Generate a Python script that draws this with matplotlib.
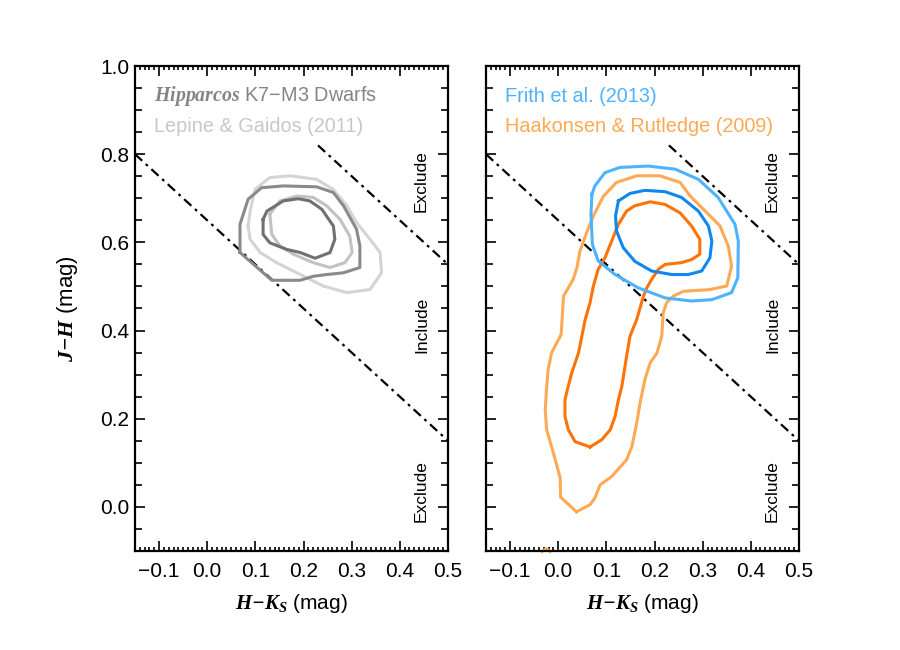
import matplotlib
matplotlib.use("Agg")
import matplotlib.pyplot as plt
from matplotlib.ticker import MultipleLocator

plt.rcParams['font.family'] = ['Liberation Sans', 'DejaVu Sans']
plt.rcParams['mathtext.fontset'] = 'custom'
plt.rcParams['mathtext.rm'] = 'Liberation Sans'
plt.rcParams['mathtext.it'] = 'Liberation Serif:italic'
plt.rcParams['mathtext.bf'] = 'Liberation Serif:bold'
plt.rcParams['mathtext.bfit'] = 'Liberation Serif:italic:bold'
plt.rcParams['lines.scale_dashes'] = False

# ---------------- data ----------------
# Hipparcos K7-M3 dwarfs contours (H-Ks, J-H)
hip_outer_x = [0.068, 0.068, 0.085, 0.113, 0.158, 0.227, 0.262, 0.283, 0.310, 0.317, 0.317,
               0.283, 0.248, 0.220, 0.193, 0.134, 0.068]
hip_outer_y = [0.577, 0.641, 0.698, 0.724, 0.728, 0.726, 0.713, 0.683, 0.630, 0.592, 0.543,
               0.531, 0.527, 0.523, 0.514, 0.514, 0.577]
hip_inner_x = [0.116, 0.124, 0.158, 0.189, 0.213, 0.238, 0.262, 0.265, 0.255, 0.224, 0.193,
               0.165, 0.130, 0.116, 0.116]
hip_inner_y = [0.652, 0.671, 0.694, 0.699, 0.694, 0.675, 0.637, 0.607, 0.577, 0.564, 0.577,
               0.584, 0.599, 0.618, 0.652]
# Lepine & Gaidos (2011)
lep_outer_x = [0.085, 0.089, 0.099, 0.130, 0.172, 0.227, 0.262, 0.290, 0.310, 0.338, 0.359,
               0.362, 0.338, 0.290, 0.241, 0.186, 0.144, 0.110, 0.089, 0.085]
lep_outer_y = [0.637, 0.670, 0.720, 0.747, 0.751, 0.743, 0.720, 0.683, 0.645, 0.607, 0.577,
               0.531, 0.493, 0.486, 0.501, 0.531, 0.554, 0.577, 0.607, 0.637]
lep_inner_x = [0.130, 0.151, 0.186, 0.220, 0.248, 0.276, 0.296, 0.301, 0.286, 0.255, 0.220,
               0.179, 0.151, 0.134, 0.130]
lep_inner_y = [0.664, 0.694, 0.705, 0.702, 0.683, 0.652, 0.614, 0.577, 0.554, 0.543, 0.554,
               0.573, 0.592, 0.618, 0.664]
# Frith et al. (2013)
fri_outer_x = [0.070, 0.076, 0.097, 0.128, 0.187, 0.243, 0.291, 0.332, 0.367, 0.374, 0.373,
               0.360, 0.319, 0.277, 0.222, 0.166, 0.118, 0.083, 0.071, 0.068, 0.070]
fri_outer_y = [0.709, 0.728, 0.758, 0.770, 0.773, 0.766, 0.743, 0.702, 0.641, 0.603, 0.520,
               0.486, 0.470, 0.467, 0.474, 0.497, 0.527, 0.558, 0.595, 0.664, 0.709]
fri_inner_x = [0.125, 0.149, 0.180, 0.222, 0.256, 0.291, 0.312, 0.319, 0.315, 0.298, 0.270,
               0.236, 0.194, 0.159, 0.135, 0.121, 0.119, 0.125]
fri_inner_y = [0.694, 0.711, 0.718, 0.715, 0.702, 0.671, 0.637, 0.603, 0.565, 0.535, 0.527,
               0.527, 0.535, 0.557, 0.588, 0.626, 0.660, 0.694]
# Haakonsen & Rutledge (2009)
haa_outer_x = [0.038, 0.005, 0.004, -0.010, -0.024, -0.027, -0.024, -0.021, -0.014, -0.005,
               0.006, 0.008, 0.011, 0.031, 0.039, 0.045, 0.059, 0.073, 0.094, 0.121, 0.163,
               0.211, 0.253, 0.274, 0.308, 0.336, 0.353, 0.360, 0.350, 0.315, 0.260, 0.239,
               0.225, 0.218, 0.215, 0.205, 0.191, 0.180, 0.170, 0.163, 0.153, 0.142, 0.111,
               0.087, 0.076, 0.066, 0.038]
haa_outer_y = [-0.011, 0.022, 0.066, 0.122, 0.175, 0.220, 0.273, 0.311, 0.349, 0.368,
               0.391, 0.425, 0.478, 0.516, 0.543, 0.580, 0.622, 0.660, 0.705, 0.736, 0.751,
               0.751, 0.736, 0.705, 0.668, 0.637, 0.592, 0.546, 0.501, 0.493, 0.489, 0.478,
               0.463, 0.440, 0.387, 0.349, 0.327, 0.289, 0.236, 0.190, 0.137, 0.107, 0.069,
               0.050, 0.020, 0.005, -0.011]
haa_inner_x = [0.066, 0.035, 0.021, 0.014, 0.014, 0.019, 0.028, 0.042, 0.049, 0.056, 0.066,
               0.073, 0.083, 0.097, 0.111, 0.125, 0.142, 0.159, 0.191, 0.222, 0.253, 0.277,
               0.294, 0.294, 0.277, 0.256, 0.222, 0.208, 0.194, 0.184, 0.177, 0.163, 0.149,
               0.142, 0.132, 0.125, 0.118, 0.108, 0.090, 0.066]
haa_inner_y = [0.136, 0.148, 0.175, 0.205, 0.243, 0.266, 0.304, 0.349, 0.387, 0.425, 0.463,
               0.501, 0.539, 0.565, 0.603, 0.641, 0.671, 0.683, 0.692, 0.686, 0.667, 0.637,
               0.607, 0.573, 0.561, 0.554, 0.550, 0.539, 0.516, 0.497, 0.478, 0.425, 0.387,
               0.342, 0.273, 0.243, 0.205, 0.175, 0.152, 0.136]
haa_stub_x = [-0.034, -0.025, -0.017]
haa_stub_y = [-0.101, -0.095, -0.101]

# selection cuts
cut_low_x = [-0.15, 0.50]
cut_low_y = [0.80, 0.15]
cut_high_x = [0.23, 0.50]
cut_high_y = [0.82, 0.55]

region_labels = ['Exclude', 'Include', 'Exclude']
region_ypos = [0.763, 0.466, 0.124]

xticks = [-0.1, 0.0, 0.1, 0.2, 0.3, 0.4, 0.5]
yticks = [0.0, 0.2, 0.4, 0.6, 0.8, 1.0]

# colours
c_hip_out, c_hip_in = '#8a8a8a', '#707070'
c_lep_out, c_lep_in = '#d4d4d4', '#c2c2c2'
c_hip_txt, c_lep_txt = '#858585', '#c8c8c8'
c_fri_out, c_fri_in = '#4db3ff', '#0f87ee'
c_haa_out, c_haa_in = '#ffa955', '#ff7308'

fig = plt.figure(figsize=(9, 6.5), dpi=100)
axL = fig.add_axes([135/900, 99/650, 313/900, 485/650])
axR = fig.add_axes([486/900, 99/650, 313/900, 485/650])

for ax in (axL, axR):
    ax.set_xlim(-0.15, 0.5)
    ax.set_ylim(-0.1, 1.0)
    ax.set_xticks(xticks)
    ax.set_yticks(yticks)
    ax.xaxis.set_minor_locator(MultipleLocator(0.01))
    ax.yaxis.set_minor_locator(MultipleLocator(0.05))
    ax.tick_params(which='both', direction='in', top=True, right=True, width=1.2, colors='black')
    ax.tick_params(axis='x', which='major', length=7, pad=8, labelsize=15)
    ax.tick_params(axis='x', which='minor', length=3)
    ax.tick_params(axis='y', which='major', length=7, pad=4, labelsize=15)
    ax.tick_params(axis='y', which='minor', length=5)
    ax.xaxis.set_major_formatter(matplotlib.ticker.FuncFormatter(
        lambda v, p: ('%.1f' % v).replace('-', '\u2212')))
    for s in ax.spines.values():
        s.set_linewidth(1.6)
    for cx, cy in ((cut_low_x, cut_low_y), (cut_high_x, cut_high_y)):
        ax.plot(cx, cy, color='black', lw=1.6, dashes=(7, 3.5, 2, 3.5), clip_on=True)
    for lab, yp in zip(region_labels, region_ypos):
        ax.text(0.915, yp, lab, rotation=90, transform=ax.transAxes,
                ha='center', va='center', fontsize=12.5)
    ax.set_xlabel(r'$\mathbfit{H{-}K_S}$ (mag)', fontsize=15)
    ax.xaxis.set_label_coords(0.5, -0.085)

axR.tick_params(axis='y', labelleft=False)
axL.yaxis.set_major_formatter(matplotlib.ticker.FormatStrFormatter('%.1f'))
axL.set_ylabel(r'$\mathbfit{J{-}H}$ (mag)', fontsize=16)
axL.yaxis.set_label_coords(-0.175, 0.5)

lw = 2.2
axL.plot(lep_outer_x, lep_outer_y, color=c_lep_out, lw=lw)
axL.plot(lep_inner_x, lep_inner_y, color=c_lep_in, lw=lw)
axL.plot(hip_outer_x, hip_outer_y, color=c_hip_out, lw=lw)
axL.plot(hip_inner_x, hip_inner_y, color=c_hip_in, lw=lw)

axR.plot(haa_outer_x, haa_outer_y, color=c_haa_out, lw=lw)
axR.plot(haa_inner_x, haa_inner_y, color=c_haa_in, lw=lw)
axR.plot(haa_stub_x, haa_stub_y, color=c_haa_out, lw=lw, clip_on=False)
axR.plot(fri_outer_x, fri_outer_y, color=c_fri_out, lw=lw)
axR.plot(fri_inner_x, fri_inner_y, color=c_fri_in, lw=lw)

fs_leg = 14.3
axL.text(0.062, 0.938, r'$\mathbfit{Hipparcos}$ K7$-$M3 Dwarfs', transform=axL.transAxes,
         color=c_hip_txt, fontsize=fs_leg, va='center', ha='left')
axL.text(0.062, 0.876, 'Lepine & Gaidos (2011)', transform=axL.transAxes,
         color=c_lep_txt, fontsize=fs_leg, va='center', ha='left')
axR.text(0.060, 0.938, 'Frith et al. (2013)', transform=axR.transAxes,
         color=c_fri_out, fontsize=fs_leg, va='center', ha='left')
axR.text(0.060, 0.876, 'Haakonsen & Rutledge (2009)', transform=axR.transAxes,
         color=c_haa_out, fontsize=fs_leg, va='center', ha='left')

fig.savefig('out.png', dpi=100)
